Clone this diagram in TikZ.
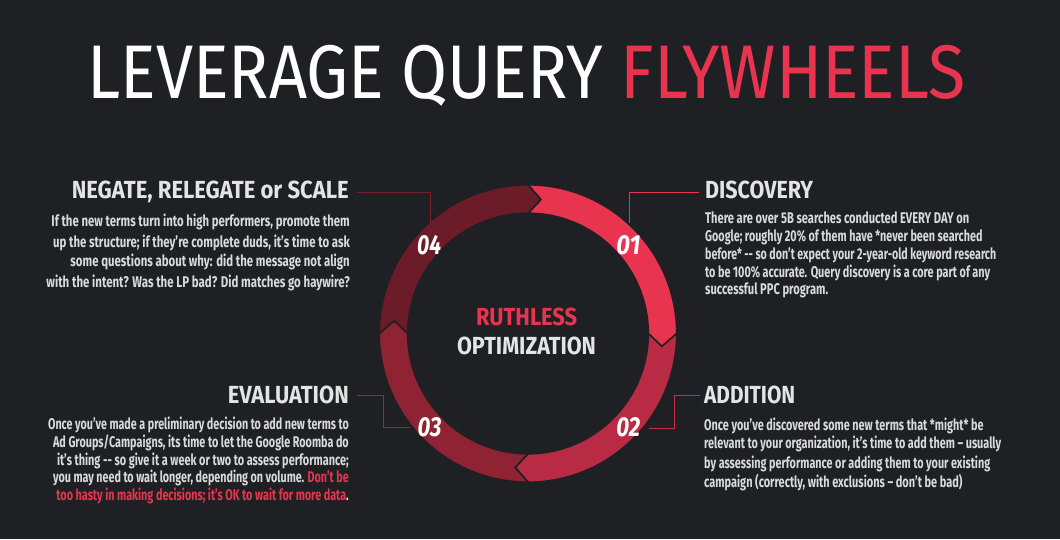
\documentclass[tikz,border=0pt]{standalone}
\usepackage{fontspec}
\setmainfont{Fira Sans}
\usetikzlibrary{calc}
\definecolor{bg}{HTML}{1F2024}
\definecolor{redA}{HTML}{E8344F}
\definecolor{redB}{HTML}{B92B44}
\definecolor{redC}{HTML}{8F2233}
\definecolor{redD}{HTML}{6B1C28}
\definecolor{lnD}{HTML}{7A1E2C}
\definecolor{lnC}{HTML}{9E2438}
\definecolor{lnB}{HTML}{C72D47}
\definecolor{headtxt}{HTML}{E4E4E4}
\definecolor{bodytxt}{HTML}{DADADA}
\newcommand\fitw[2]{\resizebox{#1pt}{\height}{#2}}
\begin{document}
\begin{tikzpicture}[x=1pt,y=1pt,
  body/.style={inner sep=0pt, text=bodytxt, font=\fontsize{15.5}{18}\selectfont\bfseries},
  head/.style={inner sep=0pt, text=headtxt, font=\fontsize{24.7}{28}\selectfont\bfseries},
  num/.style={inner sep=0pt, text=white, font=\fontsize{27.5}{30}\selectfont\bfseries\itshape},
  titletxt/.style={inner sep=0pt, anchor=base west, font=\fontsize{76}{80}\selectfont},
  conn/.style={line width=1pt},
  seg/.style={draw=bg, line width=1.6pt, line join=miter}]
\fill[bg] (0,0) rectangle (1060,539);
\useasboundingbox (0,0) rectangle (1060,539);

% title
\node[titletxt, text=white] (t1) at (87,440) {\fitw{515.6}{LEVERAGE QUERY}};
\node[titletxt, text=redA] (t2) at (620.5,440) {\fitw{344.8}{FLYWHEELS}};

% ring
\begin{scope}[shift={(528,205.5)}]
\def\Ro{148.7}\def\Ri{120.3}\def\Rm{134.5}\def\dl{5.5}
\foreach \a/\c in {90/redA, 0/redB, -90/redC, 180/redD}{
  \filldraw[seg, fill=\c] ({\a}:\Ro) arc[start angle=\a, end angle=\a-90, radius=\Ro]
    -- ({\a-90-\dl}:\Rm) -- ({\a-90}:\Ri) arc[start angle=\a-90, end angle=\a, radius=\Ri]
    -- ({\a-\dl}:\Rm) -- cycle;
}
\end{scope}

% numbers
\node[num, anchor=base] (n1) at (628.3,284.5) {\fitw{24}{01}};
\node[num, anchor=base] (n2) at (628.3,102.5) {\fitw{24}{02}};
\node[num, anchor=base] (n3) at (429.5,102.5) {\fitw{24}{03}};
\node[num, anchor=base] (n4) at (429.2,284.5) {\fitw{24}{04}};

% centre
\node[head, text=redA, anchor=base] (ru) at (526.7,214) {\fitw{101}{RUTHLESS}};
\node[head, anchor=base] (op) at (526.5,185) {\fitw{139}{OPTIMIZATION}};

% headings
\node[head, anchor=base east] (h4) at (349,340) {\fitw{277}{NEGATE, RELEGATE or SCALE}};
\node[head, anchor=base west] (h1) at (705,340) {\fitw{108}{DISCOVERY}};
\node[head, anchor=base east] (h3) at (349,136) {\fitw{121}{EVALUATION}};
\node[head, anchor=base west] (h2) at (704,136) {\fitw{91}{ADDITION}};

% connectors
\coordinate (e4) at (430,317);
\coordinate (e1) at (629,316);
\coordinate (b3) at (383,111.3);
\coordinate (e3) at (410,111.3);
\coordinate (b2) at (674,110.7);
\coordinate (e2) at (649,110.7);
\draw[conn, lnD] ([shift={(8,6.3)}]h4.base east) -| (e4);
\draw[conn, redA] ([shift={(-6,6.3)}]h1.base west) -| (e1);
\draw[conn, lnC] ([shift={(8,7.3)}]h3.base east) -| (b3) -- (e3);
\draw[conn, lnB] ([shift={(-4,7.3)}]h2.base west) -| (b2) -- (e2);

% negate block
\node[body, anchor=base east] (a1) at (350,312.3) {\fitw{298.3}{If the new terms turn into high performers, promote them}};
\node[body, anchor=base east] (a2) at (350,291.7) {\fitw{296.7}{up the structure; if they’re complete duds, it’s time to ask}};
\node[body, anchor=base east] (a3) at (350,272.3) {\fitw{279.3}{some questions about why: did the message not align}};
\node[body, anchor=base east] (a4) at (350,251.7) {\fitw{303.3}{with the intent? Was the LP bad? Did matches go haywire?}};

% discovery block
\node[body, anchor=base west] (d1) at (705,315) {\fitw{264}{There are over 5B searches conducted EVERY DAY on}};
\node[body, anchor=base west] (d2) at (705,297.3) {\fitw{277.3}{Google; roughly 20\% of them have *never been searched}};
\node[body, anchor=base west] (d3) at (705,279.3) {\fitw{291}{before* -{}- so don’t expect your 2-year-old keyword research}};
\node[body, anchor=base west] (d4) at (705,261.7) {\fitw{285}{to be 100\% accurate. Query discovery is a core part of any}};
\node[body, anchor=base west] (d5) at (705,244) {\fitw{123}{successful PPC program.}};

% evaluation block
\node[body, anchor=base east] (v1) at (349,109.7) {\fitw{300.7}{Once you’ve made a preliminary decision to add new terms to}};
\node[body, anchor=base east] (v2) at (349,91.7) {\fitw{295.7}{Ad Groups/Campaigns, its time to let the Google Roomba do}};
\node[body, anchor=base east] (v3) at (349,73.3) {\fitw{291.7}{it’s thing -{}- so give it a week or two to assess performance;}};
\node[body, anchor=base east] (v4) at (349,56.3) {\fitw{295.7}{you may need to wait longer, depending on volume. \textcolor{redA}{Don’t be}}};
\node[body, anchor=base east] (v5) at (349,39) {\fitw{292.3}{\textcolor{redA}{too hasty in making decisions; it’s OK to wait for more data}.}};

% addition block
\node[body, anchor=base west] (p1) at (704,109) {\fitw{279.3}{Once you’ve discovered some new terms that *might* be}};
\node[body, anchor=base west] (p2) at (704,90.7) {\fitw{297}{relevant to your organization, it’s time to add them – usually}};
\node[body, anchor=base west] (p3) at (704,70.7) {\fitw{286}{by assessing performance or adding them to your existing}};
\node[body, anchor=base west] (p4) at (704,51.7) {\fitw{258.3}{campaign (correctly, with exclusions – don’t be bad)}};
\end{tikzpicture}
\end{document}
